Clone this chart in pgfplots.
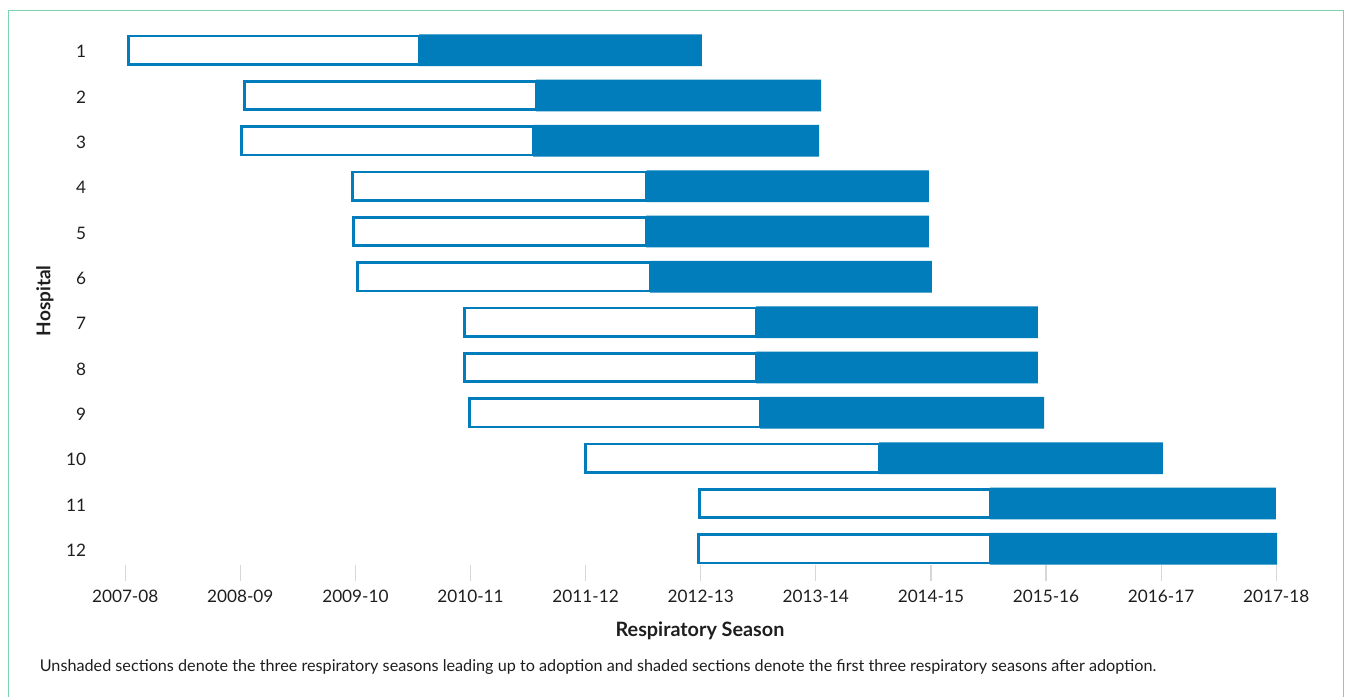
\documentclass[border=0pt]{standalone}
\usepackage{fontspec}
\setmainfont{Lato}
\usepackage{pgfplots}
\usepackage{pgfplotstable}
\pgfplotsset{compat=1.18}
\definecolor{barblue}{RGB}{0,125,186}
\definecolor{framecol}{RGB}{125,211,176}
\definecolor{tickgray}{RGB}{215,215,215}
\definecolor{txt}{RGB}{30,30,30}
\pgfplotstableread{
h start pre post
1 0.026 2.527 2.458
2 1.039 2.530 2.477
3 1.010 2.533 2.486
4 1.972 2.559 2.452
5 1.986 2.539 2.458
6 2.016 2.544 2.449
7 2.950 2.530 2.450
8 2.950 2.530 2.450
9 2.994 2.521 2.468
10 3.999 2.550 2.467
11 4.987 2.526 2.485
12 4.978 2.535 2.494
}\hosp
\begin{document}
\begin{tikzpicture}[x=1pt,y=1pt]
\useasboundingbox (0,0) rectangle (673.5,348);
\draw[framecol, line width=0.65pt] (4.35,-1) -- (4.35,342.65) -- (671.65,342.65) -- (671.65,-1);
\begin{axis}[
  at={(62.6pt,65.65pt)}, anchor=south west,
  scale only axis, width=575.5pt, height=268.6pt,
  xmin=0, xmax=10, ymin=0.5, ymax=12.35, y dir=reverse,
  xbar stacked, clip=false,
  axis x line*=bottom, axis y line*=left,
  axis line style={draw=none},
  tick align=outside, major tick length=8pt,
  xtick={0,1,2,3,4,5,6,7,8,9,10},
  xticklabels={2007-08,2008-09,2009-10,2010-11,2011-12,2012-13,2013-14,2014-15,2015-16,2016-17,2017-18},
  ytick={1,2,3,4,5,6,7,8,9,10,11,12},
  xtick style={draw=tickgray, line width=0.6pt},
  ytick style={draw=none},
  /pgf/number format/assume math mode=true,
  ticklabel style={font=\fontsize{8.6}{10}\selectfont, text=txt},
  yticklabel style={xshift=-8pt, yshift=-0.8pt},
  xticklabel style={yshift=-1pt},
]
\addplot[draw=none, fill=none] table[x=start, y=h]{\hosp};
\addplot[draw=barblue, fill=white, line width=1.4pt, bar width=14.2pt] table[x=pre, y=h]{\hosp};
\addplot[draw=none, fill=barblue, bar width=15.85pt] table[x=post, y=h]{\hosp};
\end{axis}
\node[rotate=90, font=\fontsize{9.5}{10}\selectfont\bfseries, text=txt] at (22.5,197.6) {Hospital};
\node[font=\fontsize{9.9}{11}\selectfont\bfseries, text=txt] at (350,32.5) {Respiratory Season};
\node[anchor=west, font=\fontsize{8.1}{9}\selectfont, text=txt, inner sep=0pt] at (19.7,14.7) {Unshaded sections denote the three respiratory seasons leading up to adoption and shaded sections denote the first three respiratory seasons after adoption.};
\end{tikzpicture}
\end{document}
